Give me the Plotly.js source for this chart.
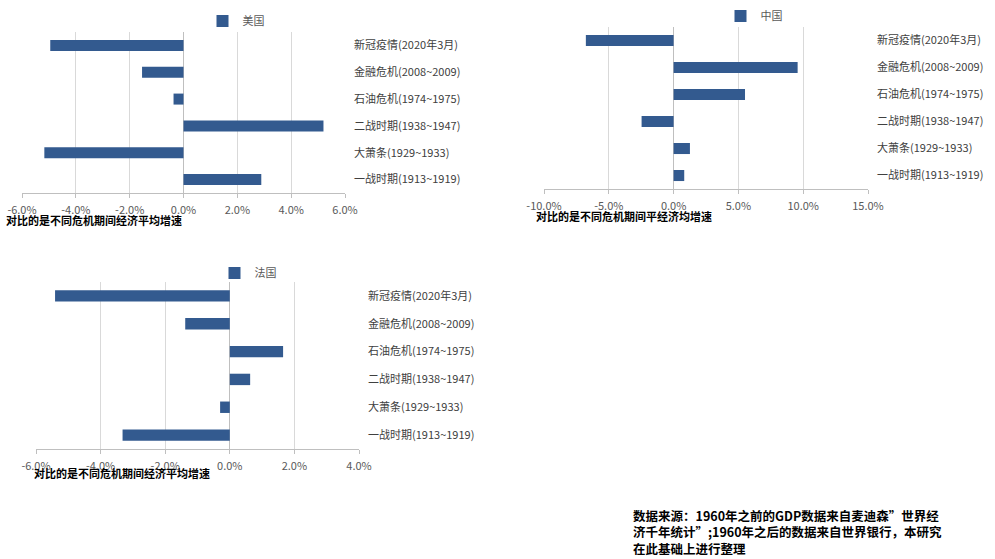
<!DOCTYPE html>
<html>
<head>
<meta charset="utf-8">
<script src="https://cdn.plot.ly/plotly-3.0.1.min.js"></script>
<style>html,body{margin:0;padding:0;background:#fff;}#chart{width:995px;height:559px;}</style>
</head>
<body>
<div id="chart"></div>
<script>
var categories = ['新冠疫情(2020年3月)','金融危机(2008~2009)','石油危机(1974~1975)','二战时期(1938~1947)','大萧条(1929~1933)','一战时期(1913~1919)'];
var usValues = [-4.95, -1.54, -0.37, 5.20, -5.17, 2.89];
var cnValues = [-6.77, 9.57, 5.51, -2.47, 1.26, 0.82];
var frValues = [-5.41, -1.38, 1.65, 0.63, -0.30, -3.32];
var usTicks = [-6, -4, -2, 0, 2, 4, 6];
var usTickText = ['-6.0%','-4.0%','-2.0%','0.0%','2.0%','4.0%','6.0%'];
var cnTicks = [-10, -5, 0, 5, 10, 15];
var cnTickText = ['-10.0%','-5.0%','0.0%','5.0%','10.0%','15.0%'];
var frTicks = [-6, -4, -2, 0, 2, 4];
var frTickText = ['-6.0%','-4.0%','-2.0%','0.0%','2.0%','4.0%'];
var seriesNames = ['美国','中国','法国'];
var axisTitleUS = '对比的是不同危机期间经济平均增速';
var axisTitleCN = '对比的是不同危机期间平经济均增速';
var axisTitleFR = '对比的是不同危机期间经济平均增速';
var sourceNote = '数据来源：1960年之前的GDP数据来自麦迪森”世界经<br>济千年统计”;1960年之后的数据来自世界银行，本研究<br>在此基础上进行整理';

var W = 995, H = 559;
function px(x){return x / W;}
function py(y){return 1 - y / H;}

var FONT = '"Noto Sans CJK SC", "Noto Sans", sans-serif';
var barColor = '#335a8f';

function bar(vals, name, xa, ya, leg){
  return {type:'bar', orientation:'h', x: vals, y: categories, name: name,
    xaxis: xa, yaxis: ya, legend: leg, showlegend: true,
    marker:{color: barColor}, hoverinfo:'x+y'};
}

var data = [
  bar(usValues, seriesNames[0], 'x', 'y', 'legend'),
  bar(cnValues, seriesNames[1], 'x2', 'y2', 'legend2'),
  bar(frValues, seriesNames[2], 'x3', 'y3', 'legend3')
];

function xaxis(dom, rng, tv, tt, anchor){
  return {domain: dom, range: rng, anchor: anchor, tickvals: tv, ticktext: tt,
    showgrid: true, gridcolor:'#d9d9d9', gridwidth:1,
    zeroline: true, zerolinecolor:'#bfbfbf', zerolinewidth:1,
    showline: true, linecolor:'#bfbfbf', linewidth:1,
    ticks:'outside', ticklen:4, tickcolor:'#bfbfbf',
    tickfont:{family: FONT, size: 11, color:'#595959'}, ticklabelstandoff: 3, fixedrange:true};
}
function yaxis(dom, anchor){
  return {domain: dom, anchor: anchor, side:'right', type:'category',
    range:[5.5, -0.5], showgrid:false, zeroline:false, showline:false, ticks:'',
    ticklabelstandoff: 8,
    tickfont:{family: FONT, size: 11, color:'#404040'}, fixedrange:true};
}
// small category-boundary tick marks sitting on the zero line
function zeroTicks(dom, over, xDom, xRange){
  var frac = (0 - xRange[0]) / (xRange[1] - xRange[0]);
  var pos = xDom[0] + frac * (xDom[1] - xDom[0]);
  return {domain: dom, overlaying: over, anchor:'free', position: pos, side:'left',
    type:'linear', range:[5.5, -0.5], tick0: 0.5, dtick: 1,
    showgrid:false, zeroline:false, showline:false, showticklabels:false,
    ticks:'outside', ticklen:3, tickcolor:'#bfbfbf', fixedrange:true};
}

var usXDom = [px(22), px(345)], usRange = [-6, 6];
var cnXDom = [px(544), px(868)], cnRange = [-10, 15];
var frXDom = [px(36), px(359)], frRange = [-6, 4];

var legFont = {family: FONT, size: 11, color:'#595959'};
var layout = {
  width: W, height: H, margin:{l:0, r:0, t:0, b:0},
  paper_bgcolor:'#ffffff', plot_bgcolor:'rgba(0,0,0,0)',
  bargap: 0.59,
  xaxis: xaxis(usXDom, usRange, usTicks, usTickText, 'y'),
  yaxis: yaxis([py(193), py(32)], 'x'),
  xaxis2: xaxis(cnXDom, cnRange, cnTicks, cnTickText, 'y2'),
  yaxis2: yaxis([py(189), py(27)], 'x2'),
  xaxis3: xaxis(frXDom, frRange, frTicks, frTickText, 'y3'),
  yaxis3: yaxis([py(449), py(282)], 'x3'),
  yaxis4: zeroTicks([py(193), py(32)], 'y', usXDom, usRange),
  yaxis5: zeroTicks([py(189), py(27)], 'y2', cnXDom, cnRange),
  yaxis6: zeroTicks([py(449), py(282)], 'y3', frXDom, frRange),
  legend: {x: px(236), y: py(21), xanchor:'center', yanchor:'middle', orientation:'h', font: legFont, bgcolor:'rgba(0,0,0,0)'},
  legend2: {x: px(754), y: py(16), xanchor:'center', yanchor:'middle', orientation:'h', font: legFont, bgcolor:'rgba(0,0,0,0)'},
  legend3: {x: px(248), y: py(273), xanchor:'center', yanchor:'middle', orientation:'h', font: legFont, bgcolor:'rgba(0,0,0,0)'},
  annotations: [
    {text:'<b>'+axisTitleUS+'</b>', xref:'paper', yref:'paper', x: px(4), y: py(220), xanchor:'left', yanchor:'middle', showarrow:false, font:{family: FONT, size: 11, color:'#000'}},
    {text:'<b>'+axisTitleCN+'</b>', xref:'paper', yref:'paper', x: px(534), y: py(216), xanchor:'left', yanchor:'middle', showarrow:false, font:{family: FONT, size: 11, color:'#000'}},
    {text:'<b>'+axisTitleFR+'</b>', xref:'paper', yref:'paper', x: px(32), y: py(473), xanchor:'left', yanchor:'middle', showarrow:false, font:{family: FONT, size: 11, color:'#000'}},
    {text:'<b>'+sourceNote+'</b>', xref:'paper', yref:'paper', x: px(631), y: py(504), xanchor:'left', yanchor:'top', align:'left', showarrow:false, font:{family: FONT, size: 12.5, color:'#000'}}
  ]
};

Plotly.newPlot('chart', data, layout, {displayModeBar:false, staticPlot:true});
</script>
</body>
</html>
